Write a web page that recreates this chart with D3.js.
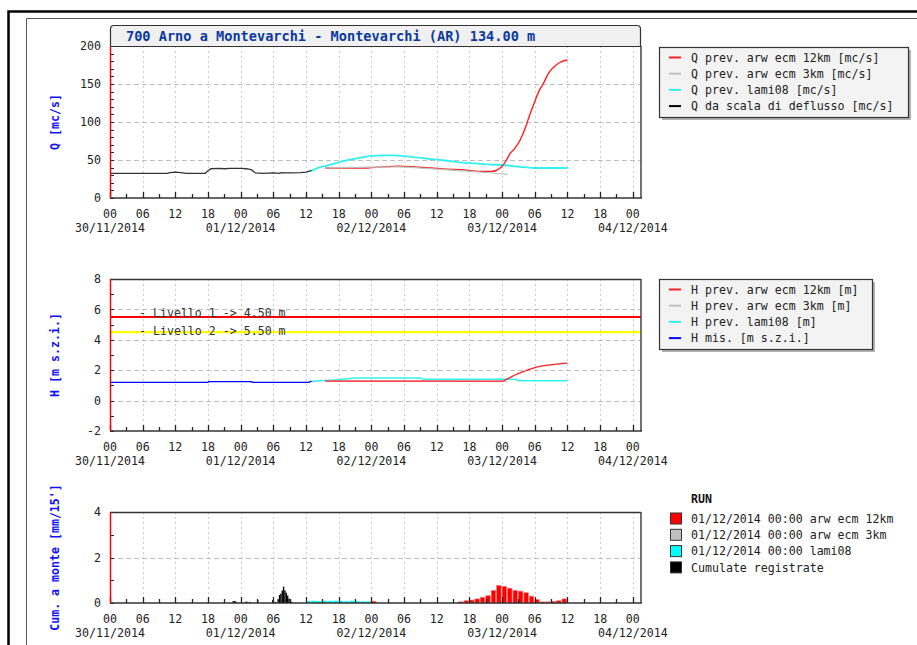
<!DOCTYPE html>
<html><head><meta charset="utf-8">
<script src="https://cdn.jsdelivr.net/npm/d3@7"></script>
<style>
body{margin:0;background:#fff}
svg{display:block}
text{font-family:"DejaVu Sans Mono","Liberation Mono",monospace}
</style>
</head><body>
<svg id="c" width="917" height="645"></svg>
<script>
// ---------------- DATA ----------------
const title = "700 Arno a Montevarchi - Montevarchi (AR) 134.00 m";
const startISO = "2014-11-30T00:00:00Z";   // hour 0 of every series below
const endHours = 97.5;

// Q panel (mc/s)
const qObsT  = [0, 10.5, 11, 12, 13, 14, 17.5, 18, 18.5, 20, 21, 22, 24, 25, 25.5, 26, 26.7, 28, 30, 31, 31.5, 32, 33, 35, 36, 36.5, 37];
const qObsV  = [32.5, 32.5, 33.5, 34, 33.5, 32.5, 32.5, 36, 38.5, 39, 38.5, 39, 39, 38.5, 38, 37, 33, 32.5, 33, 32.5, 33.5, 33, 33, 33.5, 34, 35, 36.5];
const qLamiT = [36.8, 38, 40, 42, 44, 46, 48, 50, 52, 54, 56, 58, 60, 62, 64, 66, 68, 70, 72, 74, 76, 78, 80, 84];
const qLamiV = [35, 39, 43, 47, 50.5, 53, 55.5, 56, 56, 55, 53.5, 52, 50.5, 49, 47, 46, 45, 44, 43.4, 42, 40.5, 39.5, 39.5, 39.5];
const q3kmT  = [39.5, 48, 53, 56, 60, 64, 68, 71, 73];
const q3kmV  = [39.5, 40.5, 41, 40, 38, 36, 34, 32.5, 31];
const q12kmT = [39.5, 44, 47, 48, 50, 53, 56, 59, 62, 65, 68, 70, 71, 71.9, 72.8, 73.4, 74.4, 75.3, 76.2, 77.1, 78, 78.6, 79.6, 80.5, 81.7, 82.9, 84];
const q12kmV = [39.5, 39.5, 39.5, 40, 41, 42, 41, 39.5, 38, 37, 35, 35, 36.5, 41, 50, 58, 66, 76, 91, 110, 127, 138, 151, 164, 173.7, 179.4, 181.6];

// H panel (m)
const hObsT  = [0, 18, 18.1, 26, 26.1, 36.5, 37];
const hObsV  = [1.2, 1.2, 1.25, 1.25, 1.2, 1.2, 1.28];
const hLamiT = [37, 41, 44, 45, 57, 57.5, 74.5, 75, 84];
const hLamiV = [1.28, 1.36, 1.45, 1.49, 1.49, 1.4, 1.4, 1.3, 1.3];
const h3kmT  = [39.5, 60, 73];
const h3kmV  = [1.3, 1.28, 1.25];
const h12kmT = [39.5, 72, 72.5, 73.2, 74.5, 75.9, 77, 78.3, 80.8, 82.5, 84];
const h12kmV = [1.28, 1.28, 1.35, 1.47, 1.7, 1.9, 2.05, 2.2, 2.35, 2.42, 2.46];
const levelValues = [5.5, 4.5];
const levelLabels = ["- Livello 1 -> 4.50 m", "- Livello 2 -> 5.50 m"];

// Rain panel (mm/15')
const rainObsT = [22.5, 22.75, 23, 24.75, 25, 25.5, 27, 29.75, 30.25, 30.75, 31, 31.25, 31.5, 31.75, 32, 32.25, 32.5, 32.75, 33, 33.25];
const rainObsV = [0.08, 0.09, 0.06, 0.05, 0.06, 0.05, 0.13, 0.12, 0.05, 0.17, 0.35, 0.41, 0.55, 0.72, 0.55, 0.45, 0.33, 0.19, 0.1, 0.05];
const rainLamiT = [36, 37, 38, 39, 40, 41, 42, 43, 44, 45, 46, 47];
const rainLamiV = [0.08, 0.1, 0.09, 0.1, 0.09, 0.1, 0.09, 0.08, 0.1, 0.08, 0.07, 0.07];
const rain12kmT = [48, 64, 65, 66, 67, 68, 69, 70, 71, 72, 73, 74, 75, 76, 77, 78, 79, 80, 81, 82, 83];
const rain12kmV = [0.08, 0.05, 0.1, 0.13, 0.18, 0.25, 0.32, 0.55, 0.77, 0.73, 0.65, 0.55, 0.52, 0.45, 0.3, 0.15, 0.05, 0.05, 0.07, 0.1, 0.18];

const legendQ = ["Q prev. arw ecm 12km [mc/s]", "Q prev. arw ecm 3km [mc/s]", "Q prev. lami08 [mc/s]", "Q da scala di deflusso [mc/s]"];
const legendH = ["H prev. arw ecm 12km [m]", "H prev. arw ecm 3km [m]", "H prev. lami08 [m]", "H mis. [m s.z.i.]"];
const legendRainTitle = "RUN";
const legendRain = ["01/12/2014 00:00 arw ecm 12km", "01/12/2014 00:00 arw ecm 3km", "01/12/2014 00:00 lami08", "Cumulate registrate"];
const seriesColors = ["#ff2020", "#c0c0c0", "#33f0f0", "#000000"];
const hColors = ["#ff2020", "#c0c0c0", "#33f0f0", "#0000ff"];

// ---------------- DRAW ----------------
const svg = d3.select("#c");
const t0 = new Date(startISO);
const toDate = h => new Date(t0.getTime() + h * 3600e3);
const x = d3.scaleUtc().domain([t0, toDate(endHours)]).range([110, 641]);
const font = 11.6;

// outer frames
svg.append("path").attr("d", "M8.5,660 V11.5 H930").attr("fill", "none").attr("stroke", "#000").attr("stroke-width", 2.5);
svg.append("path").attr("d", "M26.5,660 V18.5 H930").attr("fill", "none").attr("stroke", "#555").attr("stroke-width", 1);

const panels = [
  {top: 46, bottom: 198, domain: [0, 200], major: [0, 50, 100, 150, 200], minorStep: 10, grid: [50, 100, 150], label: "Q [mc/s]"},
  {top: 279, bottom: 431, domain: [-2, 8], major: [-2, 0, 2, 4, 6, 8], minorStep: 1, grid: [0, 2, 4, 6], label: "H [m s.z.i.]"},
  {top: 512, bottom: 603, domain: [0, 4], major: [0, 2, 4], minorStep: 1, grid: [2], label: "Cum. a monte [mm/15']"}
];
panels.forEach(p => { p.y = d3.scaleLinear().domain(p.domain).range([p.bottom, p.top]); });

const majorT = x.ticks(d3.utcHour.every(6));
const minorT = x.ticks(d3.utcHour.every(3)).filter(d => d.getUTCHours() % 6 !== 0);

function drawGrid(p) {
  const g = svg.append("g");
  g.selectAll(".vg").data(majorT.filter(d => x(d) > 111)).join("line")
    .attr("x1", d => Math.round(x(d)) + 0.5).attr("x2", d => Math.round(x(d)) + 0.5)
    .attr("y1", p.top).attr("y2", p.bottom)
    .attr("stroke", "#cccccc").attr("stroke-dasharray", "2,3");
  g.selectAll(".hg").data(p.grid).join("line")
    .attr("x1", 110).attr("x2", 641)
    .attr("y1", d => Math.round(p.y(d)) + 0.5).attr("y2", d => Math.round(p.y(d)) + 0.5)
    .attr("stroke", "#bdbdbd").attr("stroke-dasharray", "5,3");
}

function drawAxes(p, topBorder) {
  const g = svg.append("g");
  const tickY = d3.range(p.domain[0], p.domain[1] + 1e-9, p.minorStep);
  g.selectAll(".lt").data(tickY).join("line")
    .attr("x1", 110).attr("x2", 114)
    .attr("y1", d => Math.round(p.y(d)) + 0.5).attr("y2", d => Math.round(p.y(d)) + 0.5)
    .attr("stroke", "#222");
  g.selectAll(".yl").data(p.major).join("text")
    .attr("x", 101).attr("y", d => p.y(d)).attr("dy", "0.36em")
    .attr("text-anchor", "end").attr("font-size", font).attr("fill", "#222")
    .text(d => d);
  if (topBorder) g.append("line").attr("x1", 110).attr("x2", 641).attr("y1", p.top + 0.5).attr("y2", p.top + 0.5).attr("stroke", "#333").attr("stroke-width", 1.5);
  g.append("line").attr("x1", 641).attr("x2", 641).attr("y1", p.top).attr("y2", p.bottom).attr("stroke", "#444").attr("stroke-width", 1.5);
  g.append("line").attr("x1", 110).attr("x2", 642).attr("y1", p.bottom).attr("y2", p.bottom).attr("stroke", "#333").attr("stroke-width", 1.5);
  g.selectAll(".bt").data(majorT).join("line")
    .attr("x1", d => Math.round(x(d)) + 0.5).attr("x2", d => Math.round(x(d)) + 0.5)
    .attr("y1", p.bottom).attr("y2", p.bottom - 6).attr("stroke", "#222").attr("stroke-width", 1.3);
  g.selectAll(".mt").data(minorT).join("line")
    .attr("x1", d => Math.round(x(d)) + 0.5).attr("x2", d => Math.round(x(d)) + 0.5)
    .attr("y1", p.bottom).attr("y2", p.bottom - 4).attr("stroke", "#222").attr("stroke-width", 1.3);
  g.selectAll(".xl").data(majorT).join("text")
    .attr("x", d => x(d)).attr("y", p.bottom + 20)
    .attr("text-anchor", "middle").attr("font-size", font).attr("fill", "#222")
    .text(d3.utcFormat("%H"));
  g.selectAll(".dl").data(majorT.filter(d => d.getUTCHours() === 0)).join("text")
    .attr("x", d => x(d)).attr("y", p.bottom + 34)
    .attr("text-anchor", "middle").attr("font-size", font).attr("fill", "#222")
    .text(d3.utcFormat("%d/%m/%Y"));
  g.append("line").attr("x1", 110.5).attr("x2", 110.5).attr("y1", p.top).attr("y2", p.bottom).attr("stroke", "#ff0000").attr("stroke-width", 1.5);
  const cy = (p.top + p.bottom) / 2;
  g.append("text").attr("transform", `translate(55,${cy}) rotate(-90)`)
    .attr("text-anchor", "middle").attr("dy", "0.35em")
    .attr("font-size", 11.6).attr("font-weight", "bold").attr("fill", "#1010ff")
    .text(p.label);
}

function line(p, T, V, color, w, curve) {
  const gen = d3.line().x((d, i) => x(toDate(T[i]))).y((d, i) => p.y(V[i])).curve(curve || d3.curveLinear);
  svg.append("path").attr("d", gen(V)).attr("fill", "none").attr("stroke", color).attr("stroke-width", w);
}

// ---- Panel 1: Q ----
const P1 = panels[0];
drawGrid(P1);
line(P1, qLamiT, qLamiV, seriesColors[2], 1.8, d3.curveMonotoneX);
line(P1, q12kmT, q12kmV, seriesColors[0], 1.4, d3.curveMonotoneX);
line(P1, q3kmT, q3kmV, seriesColors[1], 1.2, d3.curveMonotoneX);
line(P1, qObsT, qObsV, "#333", 1.3);
drawAxes(P1, false);
svg.append("path").attr("d", `M110.5,46 V29 Q110.5,25.5 114,25.5 H637 Q640.5,25.5 640.5,29 V46.5 H110.5`)
  .attr("fill", "#f0f0f0").attr("stroke", "#333").attr("stroke-width", 1.2);
svg.append("text").attr("x", 126).attr("y", 40.5).attr("font-size", 13.6).attr("font-weight", "bold")
  .attr("fill", "#0a3a9e").text(title);

// ---- Panel 2: H ----
const P2 = panels[1];
drawGrid(P2);
levelValues.forEach((v, i) => {
  svg.append("line").attr("x1", 110).attr("x2", 641).attr("y1", P2.y(v)).attr("y2", P2.y(v))
    .attr("stroke", i === 0 ? "#ff0000" : "#ffff00").attr("stroke-width", 2.2);
});
line(P2, hLamiT, hLamiV, hColors[2], 1.5);
line(P2, h3kmT, h3kmV, hColors[1], 1.2);
line(P2, h12kmT, h12kmV, hColors[0], 1.3, d3.curveMonotoneX);
line(P2, hObsT, hObsV, hColors[3], 1.3);
levelValues.forEach((v, i) => {
  svg.append("text").attr("x", 139).attr("y", i === 0 ? 316.5 : 335).attr("font-size", font).attr("fill", "#333").text(levelLabels[i]);
});
drawAxes(P2, true);

// ---- Panel 3: rain ----
const P3 = panels[2];
drawGrid(P3);
function bars(T, V, hours, color, stroke, gap) {
  svg.append("g").selectAll("rect").data(V).join("rect")
    .attr("x", (d, i) => x(toDate(T[i])))
    .attr("width", (d, i) => Math.max(0.9, x(toDate(T[i] + hours)) - x(toDate(T[i])) - gap))
    .attr("y", d => P3.y(d)).attr("height", d => P3.y(0) - P3.y(d))
    .attr("fill", color).attr("stroke", stroke).attr("stroke-width", stroke === "none" ? 0 : 0.6);
}
bars(rainLamiT, rainLamiV, 1, "#00ffff", "none", 0.6);
bars(rain12kmT, rain12kmV, 1, "#ff0000", "#ff7070", 1);
bars(rainObsT, rainObsV, 0.25, "#000", "none", 0);
drawAxes(P3, true);

// ---- Legends ----
function boxLegend(x0, y0, w, h, labels, colors) {
  svg.append("rect").attr("x", x0 + 3).attr("y", y0 + 3).attr("width", w).attr("height", h).attr("fill", "#b0b0b0");
  svg.append("rect").attr("x", x0 + 0.5).attr("y", y0 + 0.5).attr("width", w).attr("height", h)
    .attr("fill", "#f3f3f3").attr("stroke", "#333").attr("stroke-width", 1.2);
  labels.forEach((t, i) => {
    const ry = y0 + 10.5 + i * 16.2;
    svg.append("line").attr("x1", 669).attr("x2", 681).attr("y1", ry).attr("y2", ry).attr("stroke", colors[i]).attr("stroke-width", 2);
    svg.append("text").attr("x", 691).attr("y", ry).attr("dy", "0.36em").attr("font-size", font).attr("fill", "#222").text(t);
  });
}
boxLegend(659, 47, 249, 70, legendQ, seriesColors);
boxLegend(659, 279, 213, 70, legendH, hColors);

svg.append("text").attr("x", 691).attr("y", 503).attr("font-size", font).attr("font-weight", "bold").attr("fill", "#111").text(legendRainTitle);
const sqColors = ["#ff0000", "#c0c0c0", "#00ffff", "#000000"];
legendRain.forEach((t, i) => {
  const ry = 518.5 + i * 16.3;
  svg.append("rect").attr("x", 670.5).attr("y", ry - 5.5).attr("width", 11).attr("height", 11)
    .attr("fill", sqColors[i]).attr("stroke", "#333").attr("stroke-width", 1);
  svg.append("text").attr("x", 691).attr("y", ry).attr("dy", "0.36em").attr("font-size", font).attr("fill", "#222").text(t);
});
</script>
</body></html>
